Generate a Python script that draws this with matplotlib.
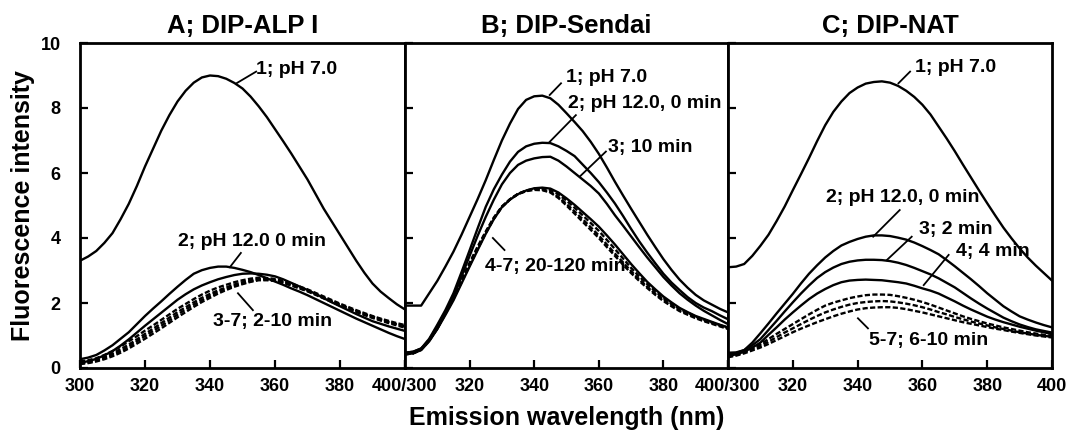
import numpy as np
import matplotlib
matplotlib.use('Agg')
import matplotlib.pyplot as plt

plt.rcParams['font.family'] = ['Liberation Sans', 'DejaVu Sans']
plt.rcParams['font.weight'] = 'bold'

# Emission wavelength grid (nm)
wavelength = [300, 302.5, 305, 307.5, 310, 312.5, 315, 317.5, 320, 322.5,
              325, 327.5, 330, 332.5, 335, 337.5, 340, 342.5, 345, 347.5,
              350, 352.5, 355, 357.5, 360, 362.5, 365, 367.5, 370, 372.5,
              375, 377.5, 380, 382.5, 385, 387.5, 390, 392.5, 395, 397.5, 400]

# Panel A; DIP-ALP I
alp_1 = [3.3, 3.43, 3.6, 3.85, 4.15, 4.58, 5.05, 5.6, 6.2, 6.75, 7.3, 7.78, 8.2, 8.53,
         8.78, 8.94, 9.0, 8.98, 8.9, 8.77, 8.6, 8.35, 8.05, 7.72, 7.35, 6.98, 6.6, 6.2,
         5.8, 5.35, 4.9, 4.5, 4.1, 3.7, 3.3, 2.93, 2.6, 2.35, 2.15, 1.96, 1.8]
alp_2 = [0.27, 0.32, 0.4, 0.54, 0.7, 0.9, 1.1, 1.35, 1.6, 1.83, 2.05, 2.28, 2.5, 2.71,
         2.9, 3.01, 3.08, 3.12, 3.12, 3.08, 3.02, 2.95, 2.86, 2.76, 2.66, 2.56, 2.45,
         2.35, 2.24, 2.12, 2.0, 1.88, 1.76, 1.64, 1.52, 1.41, 1.3, 1.19, 1.08, 0.98, 0.89]
alp_3 = [0.16, 0.21, 0.28, 0.39, 0.52, 0.69, 0.88, 1.09, 1.3, 1.5, 1.7, 1.9, 2.1, 2.27,
         2.42, 2.54, 2.64, 2.73, 2.8, 2.86, 2.9, 2.91, 2.9, 2.87, 2.82, 2.73, 2.62, 2.51,
         2.4, 2.28, 2.15, 2.02, 1.9, 1.78, 1.66, 1.55, 1.44, 1.36, 1.28, 1.21, 1.14]
alp_4 = [0.2, 0.24, 0.3, 0.4, 0.52, 0.66, 0.82, 0.98, 1.15, 1.31, 1.48, 1.65, 1.82, 1.97,
         2.12, 2.26, 2.38, 2.48, 2.56, 2.64, 2.7, 2.75, 2.78, 2.77, 2.74, 2.68, 2.6, 2.51,
         2.42, 2.31, 2.2, 2.09, 1.98, 1.88, 1.78, 1.69, 1.6, 1.52, 1.45, 1.38, 1.32]
alp_5 = [0.15, 0.19, 0.25, 0.34, 0.45, 0.58, 0.72, 0.88, 1.05, 1.21, 1.38, 1.55, 1.72, 1.87,
         2.02, 2.16, 2.28, 2.39, 2.48, 2.57, 2.64, 2.7, 2.74, 2.73, 2.7, 2.64, 2.56, 2.47,
         2.38, 2.27, 2.16, 2.05, 1.94, 1.84, 1.74, 1.65, 1.56, 1.48, 1.4, 1.33, 1.27]
alp_6 = [0.14, 0.17, 0.22, 0.3, 0.4, 0.52, 0.66, 0.82, 0.98, 1.14, 1.3, 1.47, 1.64, 1.8,
         1.95, 2.09, 2.22, 2.34, 2.44, 2.53, 2.6, 2.67, 2.72, 2.72, 2.69, 2.63, 2.55, 2.46,
         2.37, 2.27, 2.16, 2.05, 1.95, 1.85, 1.75, 1.66, 1.58, 1.5, 1.42, 1.35, 1.29]
alp_7 = [0.12, 0.15, 0.2, 0.27, 0.36, 0.47, 0.6, 0.75, 0.9, 1.06, 1.22, 1.39, 1.56, 1.72,
         1.88, 2.03, 2.16, 2.29, 2.4, 2.5, 2.58, 2.65, 2.7, 2.7, 2.68, 2.62, 2.54, 2.45,
         2.36, 2.25, 2.14, 2.03, 1.92, 1.82, 1.72, 1.63, 1.54, 1.46, 1.38, 1.31, 1.24]

# Panel B; DIP-Sendai
sen_1 = [1.92, 1.92, 1.92, 2.3, 2.68, 3.12, 3.58, 4.1, 4.65, 5.2, 5.78, 6.4, 7.0, 7.52,
         7.97, 8.25, 8.36, 8.38, 8.3, 8.1, 7.84, 7.57, 7.29, 6.96, 6.59, 6.17, 5.73, 5.31,
         4.9, 4.5, 4.1, 3.72, 3.35, 3.02, 2.72, 2.47, 2.25, 2.08, 1.95, 1.82, 1.71]
sen_2 = [0.47, 0.5, 0.6, 0.9, 1.33, 1.78, 2.3, 2.95, 3.62, 4.3, 4.96, 5.5, 5.95, 6.35,
         6.65, 6.82, 6.9, 6.93, 6.92, 6.82, 6.68, 6.52, 6.26, 6.0, 5.72, 5.4, 5.06, 4.68,
         4.28, 3.9, 3.55, 3.22, 2.9, 2.63, 2.4, 2.18, 2.0, 1.86, 1.75, 1.62, 1.5]
sen_3 = [0.47, 0.5, 0.6, 0.85, 1.2, 1.68, 2.2, 2.82, 3.45, 4.07, 4.65, 5.18, 5.65, 6.0,
         6.25, 6.38, 6.45, 6.49, 6.5, 6.38, 6.2, 6.0, 5.8, 5.6, 5.37, 5.05, 4.7, 4.38,
         4.05, 3.72, 3.4, 3.1, 2.8, 2.54, 2.3, 2.1, 1.92, 1.76, 1.62, 1.48, 1.35]
sen_4 = [0.42, 0.45, 0.55, 0.82, 1.2, 1.63, 2.08, 2.6, 3.12, 3.63, 4.13, 4.58, 4.95, 5.18,
         5.35, 5.46, 5.53, 5.55, 5.52, 5.4, 5.22, 5.02, 4.8, 4.58, 4.35, 4.08, 3.8, 3.5,
         3.2, 2.92, 2.65, 2.42, 2.2, 2.02, 1.85, 1.72, 1.6, 1.51, 1.42, 1.33, 1.25]
sen_5 = [0.42, 0.45, 0.56, 0.84, 1.22, 1.66, 2.12, 2.64, 3.16, 3.66, 4.15, 4.59, 4.95, 5.19,
         5.36, 5.46, 5.52, 5.53, 5.48, 5.34, 5.15, 4.93, 4.7, 4.46, 4.22, 3.94, 3.66, 3.37,
         3.08, 2.82, 2.58, 2.36, 2.15, 1.98, 1.82, 1.7, 1.58, 1.49, 1.4, 1.32, 1.24]
sen_6 = [0.42, 0.45, 0.57, 0.86, 1.25, 1.7, 2.16, 2.68, 3.2, 3.7, 4.18, 4.61, 4.96, 5.19,
         5.36, 5.45, 5.5, 5.49, 5.42, 5.26, 5.05, 4.82, 4.58, 4.33, 4.08, 3.8, 3.52, 3.25,
         2.98, 2.73, 2.5, 2.29, 2.1, 1.94, 1.78, 1.66, 1.55, 1.46, 1.38, 1.3, 1.22]
sen_7 = [0.43, 0.46, 0.58, 0.88, 1.28, 1.74, 2.2, 2.72, 3.24, 3.74, 4.2, 4.63, 4.97, 5.19,
         5.35, 5.44, 5.48, 5.47, 5.4, 5.23, 5.0, 4.75, 4.5, 4.25, 4.0, 3.72, 3.45, 3.18,
         2.92, 2.68, 2.46, 2.25, 2.06, 1.9, 1.75, 1.64, 1.53, 1.44, 1.36, 1.28, 1.2]

# Panel C; DIP-NAT
nat_1 = [3.1, 3.12, 3.2, 3.45, 3.76, 4.1, 4.52, 4.97, 5.47, 5.96, 6.46, 6.98, 7.47, 7.88,
         8.2, 8.46, 8.63, 8.75, 8.8, 8.82, 8.78, 8.68, 8.53, 8.34, 8.1, 7.8, 7.43, 7.06,
         6.67, 6.26, 5.86, 5.46, 5.07, 4.69, 4.32, 3.99, 3.68, 3.4, 3.15, 2.92, 2.69]
nat_2 = [0.47, 0.48, 0.55, 0.78, 1.07, 1.37, 1.68, 1.98, 2.28, 2.6, 2.9, 3.16, 3.4, 3.6,
         3.77, 3.88, 3.97, 4.04, 4.08, 4.08, 4.06, 4.01, 3.95, 3.86, 3.75, 3.63, 3.5, 3.32,
         3.13, 2.93, 2.73, 2.52, 2.3, 2.1, 1.9, 1.74, 1.59, 1.49, 1.4, 1.32, 1.25]
nat_3 = [0.42, 0.46, 0.55, 0.7, 0.89, 1.17, 1.45, 1.74, 2.02, 2.29, 2.54, 2.77, 2.95, 3.09,
         3.2, 3.27, 3.31, 3.33, 3.33, 3.32, 3.29, 3.24, 3.17, 3.08, 2.98, 2.88, 2.76, 2.62,
         2.48, 2.31, 2.14, 1.98, 1.83, 1.69, 1.55, 1.44, 1.34, 1.26, 1.19, 1.14, 1.09]
nat_4 = [0.37, 0.42, 0.5, 0.63, 0.78, 1.02, 1.25, 1.49, 1.71, 1.92, 2.12, 2.29, 2.43, 2.55,
         2.64, 2.69, 2.71, 2.72, 2.71, 2.7, 2.67, 2.64, 2.6, 2.53, 2.45, 2.38, 2.29, 2.17,
         2.05, 1.92, 1.8, 1.69, 1.58, 1.49, 1.41, 1.34, 1.27, 1.21, 1.15, 1.1, 1.04]
nat_5 = [0.37, 0.42, 0.5, 0.61, 0.73, 0.89, 1.05, 1.2, 1.35, 1.5, 1.65, 1.79, 1.92, 2.01,
         2.08, 2.15, 2.2, 2.24, 2.26, 2.26, 2.25, 2.21, 2.16, 2.1, 2.03, 1.95, 1.86, 1.77,
         1.68, 1.59, 1.51, 1.44, 1.37, 1.31, 1.25, 1.2, 1.15, 1.1, 1.06, 1.02, 0.99]
nat_6 = [0.35, 0.4, 0.48, 0.58, 0.68, 0.81, 0.95, 1.09, 1.22, 1.35, 1.48, 1.6, 1.71, 1.8,
         1.88, 1.95, 2.0, 2.03, 2.05, 2.06, 2.05, 2.02, 1.98, 1.93, 1.87, 1.8, 1.72, 1.65,
         1.57, 1.5, 1.43, 1.37, 1.31, 1.25, 1.2, 1.15, 1.1, 1.06, 1.02, 0.99, 0.96]
nat_7 = [0.33, 0.38, 0.45, 0.54, 0.63, 0.74, 0.86, 0.98, 1.1, 1.21, 1.31, 1.41, 1.5, 1.59,
         1.67, 1.74, 1.8, 1.84, 1.86, 1.87, 1.87, 1.85, 1.81, 1.76, 1.71, 1.65, 1.59, 1.53,
         1.47, 1.41, 1.36, 1.31, 1.26, 1.21, 1.17, 1.12, 1.08, 1.04, 1.0, 0.97, 0.94]

titles = ['A; DIP-ALP I', 'B; DIP-Sendai', 'C; DIP-NAT']
solid_series = [[alp_1, alp_2, alp_3],
                [sen_1, sen_2, sen_3, sen_4],
                [nat_1, nat_2, nat_3, nat_4]]
dashed_series = [[alp_4, alp_5, alp_6, alp_7],
                 [sen_5, sen_6, sen_7],
                 [nat_5, nat_6, nat_7]]

x_ticks = [300, 320, 340, 360, 380, 400]
x_ticklabels = [['300', '320', '340', '360', '380', '400/300'],
                ['', '320', '340', '360', '380', '400/300'],
                ['', '320', '340', '360', '380', '400']]
y_ticks = [0, 2, 4, 6, 8, 10]

# label text, leader line start, leader line end, text left/centre
labels = [
    [('1; pH 7.0', (348.3, 8.77), (354.2, 9.12), (354.3, 9.17)),
     ('2; pH 12.0 0 min', (346.1, 3.1), (349.5, 3.54), (330.0, 3.88)),
     ('3-7; 2-10 min', (348.6, 2.3), (353.2, 1.78), (341.0, 1.42))],
    [('1; pH 7.0', (344.8, 8.4), (348.3, 8.76), (349.8, 8.95)),
     ('2; pH 12.0, 0 min', (344.8, 6.96), (352.9, 7.78), (350.5, 8.15)),
     ('3; 10 min', (354.1, 5.89), (362.2, 6.66), (362.8, 6.77)),
     ('4-7; 20-120 min', (327.2, 4.0), (330.8, 3.63), (324.8, 3.11))],
    [('1; pH 7.0', (352.6, 8.76), (356.2, 9.12), (357.6, 9.26)),
     ('2; pH 12.0, 0 min', (344.8, 4.04), (353.0, 4.86), (330.3, 5.26)),
     ('3; 2 min', (349.0, 3.32), (356.7, 4.04), (359.0, 4.25)),
     ('4; 4 min', (360.4, 2.55), (368.1, 3.48), (370.3, 3.57)),
     ('5-7; 6-10 min', (340.1, 1.53), (343.2, 1.22), (343.6, 0.86))],
]

fig = plt.figure(figsize=(10.69, 4.42), dpi=100)
lefts = [80, 405, 728]
widths = [325, 323, 324]

for i in range(3):
    ax = fig.add_axes([lefts[i] / 1069, 1 - 368 / 442, widths[i] / 1069, 325 / 442])
    for s in solid_series[i]:
        ax.plot(wavelength, s, color='black', lw=1.7, solid_joinstyle='round')
    for s in dashed_series[i]:
        ax.plot(wavelength, s, color='black', lw=1.7, linestyle=(0, (2.2, 1.0)))
    for text, p0, p1, pt in labels[i]:
        ax.plot([p0[0], p1[0]], [p0[1], p1[1]], color='black', lw=1.3)
        ax.text(pt[0], pt[1], text, fontsize=14, fontweight='bold',
                ha='left', va='center')
    ax.set_xlim(300, 400)
    ax.set_ylim(0, 10)
    ax.set_xticks(x_ticks)
    ax.set_xticklabels(x_ticklabels[i], fontsize=13, fontweight='bold')
    ax.set_yticks(y_ticks)
    if i == 0:
        ax.set_yticklabels([str(v) for v in y_ticks], fontsize=13, fontweight='bold')
        ax.set_ylabel('Fluorescence intensity', fontsize=18, fontweight='bold', labelpad=4)
    else:
        ax.set_yticklabels([])
    if i == 1:
        ax.set_xlabel('Emission wavelength (nm)', fontsize=18, fontweight='bold', labelpad=8)
    ax.tick_params(direction='in', length=6, width=1.6)
    ax.tick_params(axis='x', pad=7)
    ax.tick_params(axis='y', pad=14)
    for sp in ax.spines.values():
        sp.set_linewidth(2)
    ax.set_title(titles[i], fontsize=18.5, fontweight='bold', pad=7)

fig.savefig('out.png', dpi=100)
